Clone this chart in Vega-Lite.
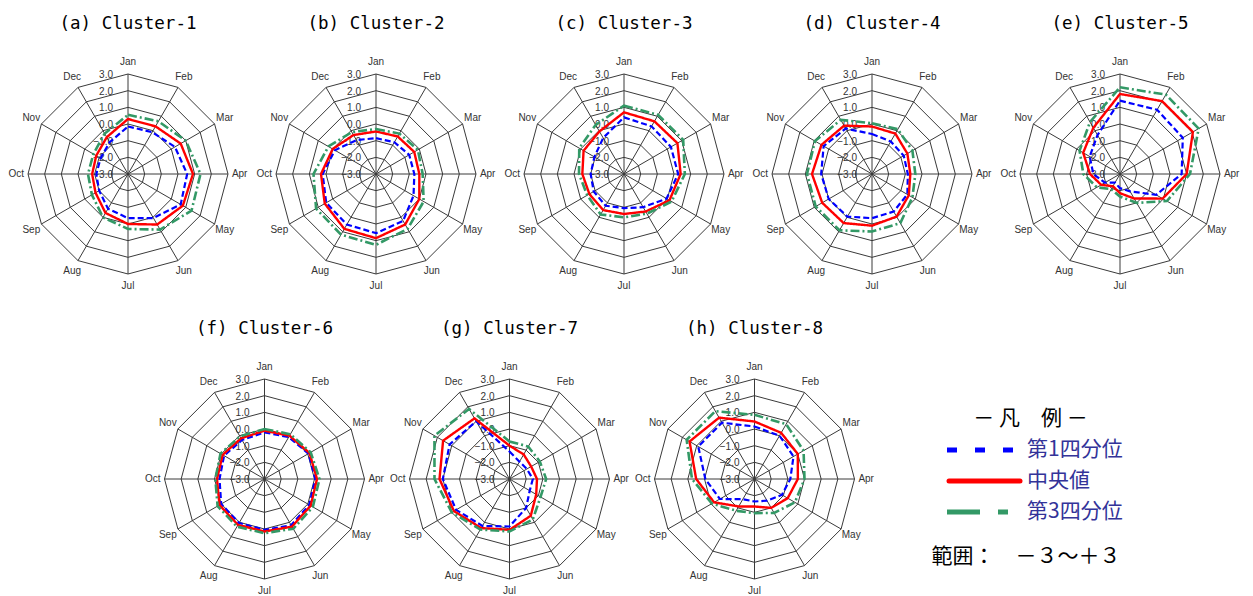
{
"$schema":"https://vega.github.io/schema/vega-lite/v6.json",
"background":"white",
"padding":{"left":4,"top":14,"right":0,"bottom":0},
"config":{"view":{"stroke":null},"header":{"labelFont":"DejaVu Sans Mono","labelFontSize":17.5,"labelColor":"black","labelPadding":17}},
"datasets":{
"months":[
{"i":0,"m":"Jan","lv":[-3,-2,-1,0,1,2,3]},{"i":1,"m":"Feb","lv":[-3,-2,-1,0,1,2,3]},{"i":2,"m":"Mar","lv":[-3,-2,-1,0,1,2,3]},{"i":3,"m":"Apr","lv":[-3,-2,-1,0,1,2,3]},{"i":4,"m":"May","lv":[-3,-2,-1,0,1,2,3]},{"i":5,"m":"Jun","lv":[-3,-2,-1,0,1,2,3]},{"i":6,"m":"Jul","lv":[-3,-2,-1,0,1,2,3]},{"i":7,"m":"Aug","lv":[-3,-2,-1,0,1,2,3]},{"i":8,"m":"Sep","lv":[-3,-2,-1,0,1,2,3]},{"i":9,"m":"Oct","lv":[-3,-2,-1,0,1,2,3]},{"i":10,"m":"Nov","lv":[-3,-2,-1,0,1,2,3]},{"i":11,"m":"Dec","lv":[-3,-2,-1,0,1,2,3]}
],
"series":[
{"c":"(a) Cluster-1","s":"q1","i":0,"v":-0.15},{"c":"(a) Cluster-1","s":"q1","i":1,"v":-0.1},{"c":"(a) Cluster-1","s":"q1","i":2,"v":0.25},{"c":"(a) Cluster-1","s":"q1","i":3,"v":0.55},{"c":"(a) Cluster-1","s":"q1","i":4,"v":0.65},{"c":"(a) Cluster-1","s":"q1","i":5,"v":0.05},{"c":"(a) Cluster-1","s":"q1","i":6,"v":-0.35},{"c":"(a) Cluster-1","s":"q1","i":7,"v":-0.6},{"c":"(a) Cluster-1","s":"q1","i":8,"v":-1.0},{"c":"(a) Cluster-1","s":"q1","i":9,"v":-1.1},{"c":"(a) Cluster-1","s":"q1","i":10,"v":-1.1},{"c":"(a) Cluster-1","s":"q1","i":11,"v":-0.8},
{"c":"(a) Cluster-1","s":"med","i":0,"v":0.3},{"c":"(a) Cluster-1","s":"med","i":1,"v":0.3},{"c":"(a) Cluster-1","s":"med","i":2,"v":0.65},{"c":"(a) Cluster-1","s":"med","i":3,"v":0.9},{"c":"(a) Cluster-1","s":"med","i":4,"v":0.8},{"c":"(a) Cluster-1","s":"med","i":5,"v":0.5},{"c":"(a) Cluster-1","s":"med","i":6,"v":0.0},{"c":"(a) Cluster-1","s":"med","i":7,"v":-0.3},{"c":"(a) Cluster-1","s":"med","i":8,"v":-0.75},{"c":"(a) Cluster-1","s":"med","i":9,"v":-0.85},{"c":"(a) Cluster-1","s":"med","i":10,"v":-0.8},{"c":"(a) Cluster-1","s":"med","i":11,"v":-0.45},
{"c":"(a) Cluster-1","s":"q3","i":0,"v":0.55},{"c":"(a) Cluster-1","s":"q3","i":1,"v":0.65},{"c":"(a) Cluster-1","s":"q3","i":2,"v":1.0},{"c":"(a) Cluster-1","s":"q3","i":3,"v":1.35},{"c":"(a) Cluster-1","s":"q3","i":4,"v":1.4},{"c":"(a) Cluster-1","s":"q3","i":5,"v":0.85},{"c":"(a) Cluster-1","s":"q3","i":6,"v":0.3},{"c":"(a) Cluster-1","s":"q3","i":7,"v":0.0},{"c":"(a) Cluster-1","s":"q3","i":8,"v":-0.5},{"c":"(a) Cluster-1","s":"q3","i":9,"v":-0.6},{"c":"(a) Cluster-1","s":"q3","i":10,"v":-0.6},{"c":"(a) Cluster-1","s":"q3","i":11,"v":-0.2},
{"c":"(b) Cluster-2","s":"q1","i":0,"v":-0.85},{"c":"(b) Cluster-2","s":"q1","i":1,"v":-0.8},{"c":"(b) Cluster-2","s":"q1","i":2,"v":-0.7},{"c":"(b) Cluster-2","s":"q1","i":3,"v":-0.7},{"c":"(b) Cluster-2","s":"q1","i":4,"v":-0.4},{"c":"(b) Cluster-2","s":"q1","i":5,"v":0.25},{"c":"(b) Cluster-2","s":"q1","i":6,"v":0.55},{"c":"(b) Cluster-2","s":"q1","i":7,"v":0.5},{"c":"(b) Cluster-2","s":"q1","i":8,"v":0.45},{"c":"(b) Cluster-2","s":"q1","i":9,"v":0.2},{"c":"(b) Cluster-2","s":"q1","i":10,"v":-0.15},{"c":"(b) Cluster-2","s":"q1","i":11,"v":-0.65},
{"c":"(b) Cluster-2","s":"med","i":0,"v":-0.45},{"c":"(b) Cluster-2","s":"med","i":1,"v":-0.4},{"c":"(b) Cluster-2","s":"med","i":2,"v":-0.35},{"c":"(b) Cluster-2","s":"med","i":3,"v":-0.4},{"c":"(b) Cluster-2","s":"med","i":4,"v":0.0},{"c":"(b) Cluster-2","s":"med","i":5,"v":0.5},{"c":"(b) Cluster-2","s":"med","i":6,"v":0.85},{"c":"(b) Cluster-2","s":"med","i":7,"v":0.8},{"c":"(b) Cluster-2","s":"med","i":8,"v":0.55},{"c":"(b) Cluster-2","s":"med","i":9,"v":0.3},{"c":"(b) Cluster-2","s":"med","i":10,"v":0.0},{"c":"(b) Cluster-2","s":"med","i":11,"v":-0.3},
{"c":"(b) Cluster-2","s":"q3","i":0,"v":-0.3},{"c":"(b) Cluster-2","s":"q3","i":1,"v":-0.2},{"c":"(b) Cluster-2","s":"q3","i":2,"v":-0.1},{"c":"(b) Cluster-2","s":"q3","i":3,"v":-0.2},{"c":"(b) Cluster-2","s":"q3","i":4,"v":0.3},{"c":"(b) Cluster-2","s":"q3","i":5,"v":0.8},{"c":"(b) Cluster-2","s":"q3","i":6,"v":1.25},{"c":"(b) Cluster-2","s":"q3","i":7,"v":1.2},{"c":"(b) Cluster-2","s":"q3","i":8,"v":1.15},{"c":"(b) Cluster-2","s":"q3","i":9,"v":0.75},{"c":"(b) Cluster-2","s":"q3","i":10,"v":0.3},{"c":"(b) Cluster-2","s":"q3","i":11,"v":-0.1},
{"c":"(c) Cluster-3","s":"q1","i":0,"v":0.4},{"c":"(c) Cluster-3","s":"q1","i":1,"v":0.3},{"c":"(c) Cluster-3","s":"q1","i":2,"v":0.25},{"c":"(c) Cluster-3","s":"q1","i":3,"v":0.25},{"c":"(c) Cluster-3","s":"q1","i":4,"v":-0.05},{"c":"(c) Cluster-3","s":"q1","i":5,"v":-0.7},{"c":"(c) Cluster-3","s":"q1","i":6,"v":-0.95},{"c":"(c) Cluster-3","s":"q1","i":7,"v":-0.8},{"c":"(c) Cluster-3","s":"q1","i":8,"v":-0.9},{"c":"(c) Cluster-3","s":"q1","i":9,"v":-1.0},{"c":"(c) Cluster-3","s":"q1","i":10,"v":-0.95},{"c":"(c) Cluster-3","s":"q1","i":11,"v":-0.5},
{"c":"(c) Cluster-3","s":"med","i":0,"v":0.7},{"c":"(c) Cluster-3","s":"med","i":1,"v":0.65},{"c":"(c) Cluster-3","s":"med","i":2,"v":0.7},{"c":"(c) Cluster-3","s":"med","i":3,"v":0.4},{"c":"(c) Cluster-3","s":"med","i":4,"v":0.15},{"c":"(c) Cluster-3","s":"med","i":5,"v":-0.4},{"c":"(c) Cluster-3","s":"med","i":6,"v":-0.6},{"c":"(c) Cluster-3","s":"med","i":7,"v":-0.5},{"c":"(c) Cluster-3","s":"med","i":8,"v":-0.6},{"c":"(c) Cluster-3","s":"med","i":9,"v":-0.5},{"c":"(c) Cluster-3","s":"med","i":10,"v":-0.2},{"c":"(c) Cluster-3","s":"med","i":11,"v":-0.05},
{"c":"(c) Cluster-3","s":"q3","i":0,"v":1.1},{"c":"(c) Cluster-3","s":"q3","i":1,"v":1.1},{"c":"(c) Cluster-3","s":"q3","i":2,"v":1.1},{"c":"(c) Cluster-3","s":"q3","i":3,"v":0.65},{"c":"(c) Cluster-3","s":"q3","i":4,"v":0.3},{"c":"(c) Cluster-3","s":"q3","i":5,"v":-0.25},{"c":"(c) Cluster-3","s":"q3","i":6,"v":-0.4},{"c":"(c) Cluster-3","s":"q3","i":7,"v":-0.2},{"c":"(c) Cluster-3","s":"q3","i":8,"v":-0.45},{"c":"(c) Cluster-3","s":"q3","i":9,"v":-0.3},{"c":"(c) Cluster-3","s":"q3","i":10,"v":0.1},{"c":"(c) Cluster-3","s":"q3","i":11,"v":0.4},
{"c":"(d) Cluster-4","s":"q1","i":0,"v":-0.6},{"c":"(d) Cluster-4","s":"q1","i":1,"v":-0.75},{"c":"(d) Cluster-4","s":"q1","i":2,"v":-0.8},{"c":"(d) Cluster-4","s":"q1","i":3,"v":-0.85},{"c":"(d) Cluster-4","s":"q1","i":4,"v":-0.55},{"c":"(d) Cluster-4","s":"q1","i":5,"v":-0.4},{"c":"(d) Cluster-4","s":"q1","i":6,"v":-0.35},{"c":"(d) Cluster-4","s":"q1","i":7,"v":-0.05},{"c":"(d) Cluster-4","s":"q1","i":8,"v":0.0},{"c":"(d) Cluster-4","s":"q1","i":9,"v":0.05},{"c":"(d) Cluster-4","s":"q1","i":10,"v":0.35},{"c":"(d) Cluster-4","s":"q1","i":11,"v":0.15},
{"c":"(d) Cluster-4","s":"med","i":0,"v":-0.15},{"c":"(d) Cluster-4","s":"med","i":1,"v":-0.2},{"c":"(d) Cluster-4","s":"med","i":2,"v":-0.55},{"c":"(d) Cluster-4","s":"med","i":3,"v":-0.7},{"c":"(d) Cluster-4","s":"med","i":4,"v":-0.45},{"c":"(d) Cluster-4","s":"med","i":5,"v":-0.05},{"c":"(d) Cluster-4","s":"med","i":6,"v":0.1},{"c":"(d) Cluster-4","s":"med","i":7,"v":0.4},{"c":"(d) Cluster-4","s":"med","i":8,"v":0.45},{"c":"(d) Cluster-4","s":"med","i":9,"v":0.6},{"c":"(d) Cluster-4","s":"med","i":10,"v":0.5},{"c":"(d) Cluster-4","s":"med","i":11,"v":0.35},
{"c":"(d) Cluster-4","s":"q3","i":0,"v":0.05},{"c":"(d) Cluster-4","s":"q3","i":1,"v":0.1},{"c":"(d) Cluster-4","s":"q3","i":2,"v":-0.2},{"c":"(d) Cluster-4","s":"q3","i":3,"v":-0.4},{"c":"(d) Cluster-4","s":"q3","i":4,"v":-0.2},{"c":"(d) Cluster-4","s":"q3","i":5,"v":0.4},{"c":"(d) Cluster-4","s":"q3","i":6,"v":0.45},{"c":"(d) Cluster-4","s":"q3","i":7,"v":0.9},{"c":"(d) Cluster-4","s":"q3","i":8,"v":0.9},{"c":"(d) Cluster-4","s":"q3","i":9,"v":0.9},{"c":"(d) Cluster-4","s":"q3","i":10,"v":0.95},{"c":"(d) Cluster-4","s":"q3","i":11,"v":0.75},
{"c":"(e) Cluster-5","s":"q1","i":0,"v":1.4},{"c":"(e) Cluster-5","s":"q1","i":1,"v":1.45},{"c":"(e) Cluster-5","s":"q1","i":2,"v":1.35},{"c":"(e) Cluster-5","s":"q1","i":3,"v":0.7},{"c":"(e) Cluster-5","s":"q1","i":4,"v":-0.5},{"c":"(e) Cluster-5","s":"q1","i":5,"v":-1.8},{"c":"(e) Cluster-5","s":"q1","i":6,"v":-2.15},{"c":"(e) Cluster-5","s":"q1","i":7,"v":-2.4},{"c":"(e) Cluster-5","s":"q1","i":8,"v":-1.95},{"c":"(e) Cluster-5","s":"q1","i":9,"v":-1.4},{"c":"(e) Cluster-5","s":"q1","i":10,"v":-0.9},{"c":"(e) Cluster-5","s":"q1","i":11,"v":-0.3},
{"c":"(e) Cluster-5","s":"med","i":0,"v":1.8},{"c":"(e) Cluster-5","s":"med","i":1,"v":2.05},{"c":"(e) Cluster-5","s":"med","i":2,"v":2.05},{"c":"(e) Cluster-5","s":"med","i":3,"v":1.0},{"c":"(e) Cluster-5","s":"med","i":4,"v":-0.05},{"c":"(e) Cluster-5","s":"med","i":5,"v":-1.3},{"c":"(e) Cluster-5","s":"med","i":6,"v":-1.85},{"c":"(e) Cluster-5","s":"med","i":7,"v":-2.15},{"c":"(e) Cluster-5","s":"med","i":8,"v":-1.7},{"c":"(e) Cluster-5","s":"med","i":9,"v":-1.2},{"c":"(e) Cluster-5","s":"med","i":10,"v":-0.45},{"c":"(e) Cluster-5","s":"med","i":11,"v":0.2},
{"c":"(e) Cluster-5","s":"q3","i":0,"v":2.2},{"c":"(e) Cluster-5","s":"q3","i":1,"v":2.5},{"c":"(e) Cluster-5","s":"q3","i":2,"v":2.45},{"c":"(e) Cluster-5","s":"q3","i":3,"v":1.2},{"c":"(e) Cluster-5","s":"q3","i":4,"v":0.25},{"c":"(e) Cluster-5","s":"q3","i":5,"v":-1.0},{"c":"(e) Cluster-5","s":"q3","i":6,"v":-1.65},{"c":"(e) Cluster-5","s":"q3","i":7,"v":-1.95},{"c":"(e) Cluster-5","s":"q3","i":8,"v":-1.4},{"c":"(e) Cluster-5","s":"q3","i":9,"v":-0.8},{"c":"(e) Cluster-5","s":"q3","i":10,"v":-0.2},{"c":"(e) Cluster-5","s":"q3","i":11,"v":0.6},
{"c":"(f) Cluster-6","s":"q1","i":0,"v":-0.2},{"c":"(f) Cluster-6","s":"q1","i":1,"v":-0.1},{"c":"(f) Cluster-6","s":"q1","i":2,"v":0.05},{"c":"(f) Cluster-6","s":"q1","i":3,"v":0.05},{"c":"(f) Cluster-6","s":"q1","i":4,"v":0.1},{"c":"(f) Cluster-6","s":"q1","i":5,"v":0.2},{"c":"(f) Cluster-6","s":"q1","i":6,"v":0.05},{"c":"(f) Cluster-6","s":"q1","i":7,"v":0.05},{"c":"(f) Cluster-6","s":"q1","i":8,"v":0.0},{"c":"(f) Cluster-6","s":"q1","i":9,"v":-0.3},{"c":"(f) Cluster-6","s":"q1","i":10,"v":-0.2},{"c":"(f) Cluster-6","s":"q1","i":11,"v":-0.3},
{"c":"(f) Cluster-6","s":"med","i":0,"v":-0.1},{"c":"(f) Cluster-6","s":"med","i":1,"v":0.0},{"c":"(f) Cluster-6","s":"med","i":2,"v":0.12},{"c":"(f) Cluster-6","s":"med","i":3,"v":0.15},{"c":"(f) Cluster-6","s":"med","i":4,"v":0.2},{"c":"(f) Cluster-6","s":"med","i":5,"v":0.3},{"c":"(f) Cluster-6","s":"med","i":6,"v":0.15},{"c":"(f) Cluster-6","s":"med","i":7,"v":0.18},{"c":"(f) Cluster-6","s":"med","i":8,"v":0.12},{"c":"(f) Cluster-6","s":"med","i":9,"v":-0.15},{"c":"(f) Cluster-6","s":"med","i":10,"v":-0.1},{"c":"(f) Cluster-6","s":"med","i":11,"v":-0.18},
{"c":"(f) Cluster-6","s":"q3","i":0,"v":0.0},{"c":"(f) Cluster-6","s":"q3","i":1,"v":0.1},{"c":"(f) Cluster-6","s":"q3","i":2,"v":0.2},{"c":"(f) Cluster-6","s":"q3","i":3,"v":0.3},{"c":"(f) Cluster-6","s":"q3","i":4,"v":0.35},{"c":"(f) Cluster-6","s":"q3","i":5,"v":0.45},{"c":"(f) Cluster-6","s":"q3","i":6,"v":0.25},{"c":"(f) Cluster-6","s":"q3","i":7,"v":0.3},{"c":"(f) Cluster-6","s":"q3","i":8,"v":0.25},{"c":"(f) Cluster-6","s":"q3","i":9,"v":-0.05},{"c":"(f) Cluster-6","s":"q3","i":10,"v":0.05},{"c":"(f) Cluster-6","s":"q3","i":11,"v":-0.05},
{"c":"(g) Cluster-7","s":"q1","i":0,"v":-1.35},{"c":"(g) Cluster-7","s":"q1","i":1,"v":-1.8},{"c":"(g) Cluster-7","s":"q1","i":2,"v":-1.8},{"c":"(g) Cluster-7","s":"q1","i":3,"v":-1.6},{"c":"(g) Cluster-7","s":"q1","i":4,"v":-1.6},{"c":"(g) Cluster-7","s":"q1","i":5,"v":-1.0},{"c":"(g) Cluster-7","s":"q1","i":6,"v":-0.15},{"c":"(g) Cluster-7","s":"q1","i":7,"v":0.25},{"c":"(g) Cluster-7","s":"q1","i":8,"v":0.7},{"c":"(g) Cluster-7","s":"q1","i":9,"v":1.0},{"c":"(g) Cluster-7","s":"q1","i":10,"v":1.15},{"c":"(g) Cluster-7","s":"q1","i":11,"v":1.0},
{"c":"(g) Cluster-7","s":"med","i":0,"v":-1.0},{"c":"(g) Cluster-7","s":"med","i":1,"v":-1.3},{"c":"(g) Cluster-7","s":"med","i":2,"v":-1.5},{"c":"(g) Cluster-7","s":"med","i":3,"v":-1.35},{"c":"(g) Cluster-7","s":"med","i":4,"v":-1.15},{"c":"(g) Cluster-7","s":"med","i":5,"v":-0.45},{"c":"(g) Cluster-7","s":"med","i":6,"v":0.05},{"c":"(g) Cluster-7","s":"med","i":7,"v":0.4},{"c":"(g) Cluster-7","s":"med","i":8,"v":0.85},{"c":"(g) Cluster-7","s":"med","i":9,"v":1.2},{"c":"(g) Cluster-7","s":"med","i":10,"v":1.6},{"c":"(g) Cluster-7","s":"med","i":11,"v":1.2},
{"c":"(g) Cluster-7","s":"q3","i":0,"v":-0.75},{"c":"(g) Cluster-7","s":"q3","i":1,"v":-0.75},{"c":"(g) Cluster-7","s":"q3","i":2,"v":-0.9},{"c":"(g) Cluster-7","s":"q3","i":3,"v":-0.8},{"c":"(g) Cluster-7","s":"q3","i":4,"v":-0.85},{"c":"(g) Cluster-7","s":"q3","i":5,"v":-0.2},{"c":"(g) Cluster-7","s":"q3","i":6,"v":0.15},{"c":"(g) Cluster-7","s":"q3","i":7,"v":0.5},{"c":"(g) Cluster-7","s":"q3","i":8,"v":1.0},{"c":"(g) Cluster-7","s":"q3","i":9,"v":1.5},{"c":"(g) Cluster-7","s":"q3","i":10,"v":2.2},{"c":"(g) Cluster-7","s":"q3","i":11,"v":1.85},
{"c":"(h) Cluster-8","s":"q1","i":0,"v":0.15},{"c":"(h) Cluster-8","s":"q1","i":1,"v":0.0},{"c":"(h) Cluster-8","s":"q1","i":2,"v":-0.3},{"c":"(h) Cluster-8","s":"q1","i":3,"v":-0.85},{"c":"(h) Cluster-8","s":"q1","i":4,"v":-1.1},{"c":"(h) Cluster-8","s":"q1","i":5,"v":-1.5},{"c":"(h) Cluster-8","s":"q1","i":6,"v":-1.65},{"c":"(h) Cluster-8","s":"q1","i":7,"v":-1.6},{"c":"(h) Cluster-8","s":"q1","i":8,"v":-0.6},{"c":"(h) Cluster-8","s":"q1","i":9,"v":-0.05},{"c":"(h) Cluster-8","s":"q1","i":10,"v":0.9},{"c":"(h) Cluster-8","s":"q1","i":11,"v":0.9},
{"c":"(h) Cluster-8","s":"med","i":0,"v":0.45},{"c":"(h) Cluster-8","s":"med","i":1,"v":0.2},{"c":"(h) Cluster-8","s":"med","i":2,"v":0.0},{"c":"(h) Cluster-8","s":"med","i":3,"v":-0.4},{"c":"(h) Cluster-8","s":"med","i":4,"v":-0.7},{"c":"(h) Cluster-8","s":"med","i":5,"v":-1.0},{"c":"(h) Cluster-8","s":"med","i":6,"v":-1.35},{"c":"(h) Cluster-8","s":"med","i":7,"v":-1.1},{"c":"(h) Cluster-8","s":"med","i":8,"v":-0.2},{"c":"(h) Cluster-8","s":"med","i":9,"v":0.5},{"c":"(h) Cluster-8","s":"med","i":10,"v":1.5},{"c":"(h) Cluster-8","s":"med","i":11,"v":1.25},
{"c":"(h) Cluster-8","s":"q3","i":0,"v":0.85},{"c":"(h) Cluster-8","s":"q3","i":1,"v":0.8},{"c":"(h) Cluster-8","s":"q3","i":2,"v":0.4},{"c":"(h) Cluster-8","s":"q3","i":3,"v":0.0},{"c":"(h) Cluster-8","s":"q3","i":4,"v":-0.2},{"c":"(h) Cluster-8","s":"q3","i":5,"v":-0.65},{"c":"(h) Cluster-8","s":"q3","i":6,"v":-0.95},{"c":"(h) Cluster-8","s":"q3","i":7,"v":-0.8},{"c":"(h) Cluster-8","s":"q3","i":8,"v":-0.05},{"c":"(h) Cluster-8","s":"q3","i":9,"v":0.75},{"c":"(h) Cluster-8","s":"q3","i":10,"v":1.7},{"c":"(h) Cluster-8","s":"q3","i":11,"v":1.7}
]
},
"spacing":20,
"vconcat":[
{
"data":{"name":"series"},
"transform":[{"filter":{"field":"c","oneOf":["(a) Cluster-1","(b) Cluster-2","(c) Cluster-3","(d) Cluster-4","(e) Cluster-5"]}},{"lookup":"i","from":{"data":{"name":"months"},"key":"i","fields":["m","lv"]}}],
"facet":{"column":{"field":"c","type":"nominal","title":null}},
"spacing":0,
"spec":{
"width":248,"height":250,
"layer":[
{"transform":[{"filter":"datum.s == 'med'"},{"flatten":["lv"]},{"filter":"datum.lv > -3"},{"calculate":"(datum.lv + 3) * sin(datum.i * PI / 6)","as":"gx"},{"calculate":"(datum.lv + 3) * cos(datum.i * PI / 6)","as":"gy"}],
"mark":{"type":"line","interpolate":"linear-closed","color":"#3a3a3a","strokeWidth":1},
"encoding":{"x":{"field":"gx","type":"quantitative","scale":{"domain":[-7.44,7.44],"nice":false,"zero":false},"axis":null},"y":{"field":"gy","type":"quantitative","scale":{"domain":[-7.5,7.5],"nice":false,"zero":false},"axis":null},"detail":{"field":"lv","type":"nominal"},"order":{"field":"i","type":"quantitative"}}},
{"transform":[{"filter":"datum.s == 'med'"},{"calculate":"0","as":"z"},{"calculate":"6 * sin(datum.i * PI / 6)","as":"sx"},{"calculate":"6 * cos(datum.i * PI / 6)","as":"sy"}],
"mark":{"type":"rule","color":"#3a3a3a","strokeWidth":1},
"encoding":{"x":{"field":"z","type":"quantitative"},"y":{"field":"z","type":"quantitative"},"x2":{"field":"sx"},"y2":{"field":"sy"}}},
{"transform":[{"filter":"datum.s == 'med' && datum.i == 0"},{"flatten":["lv"]},{"calculate":"0","as":"z"},{"calculate":"datum.lv + 3","as":"ry"}],
"mark":{"type":"text","font":"Liberation Sans","fontSize":10,"color":"#333333","align":"right","baseline":"middle","dx":-15,"dy":1},
"encoding":{"x":{"field":"z","type":"quantitative"},"y":{"field":"ry","type":"quantitative"},"text":{"field":"lv","type":"quantitative","format":".1f"}}},
{"transform":[{"filter":"datum.s == 'med'"},{"calculate":"6.7 * sin(datum.i * PI / 6)","as":"lx"},{"calculate":"6.7 * cos(datum.i * PI / 6)","as":"ly"}],
"mark":{"type":"text","font":"Liberation Sans","fontSize":10,"color":"#333333","align":"center","baseline":"middle"},
"encoding":{"x":{"field":"lx","type":"quantitative"},"y":{"field":"ly","type":"quantitative"},"text":{"field":"m","type":"nominal"}}},
{"transform":[{"calculate":"(datum.v + 3) * sin(datum.i * PI / 6)","as":"px"},{"calculate":"(datum.v + 3) * cos(datum.i * PI / 6)","as":"py"}],
"mark":{"type":"line","interpolate":"linear-closed"},
"encoding":{"x":{"field":"px","type":"quantitative"},"y":{"field":"py","type":"quantitative"},
"color":{"field":"s","type":"nominal","scale":{"domain":["q1","med","q3"],"range":["#0000ff","#ff0000","#339966"]},"legend":null},
"strokeDash":{"field":"s","type":"nominal","scale":{"domain":["q1","med","q3"],"range":[[6,3],[1,0],[9,3,2,3]]},"legend":null},
"strokeWidth":{"field":"s","type":"ordinal","scale":{"domain":["q1","med","q3"],"range":[2.2,2.6,1.6]},"legend":null},
"order":{"field":"i","type":"quantitative"}}}
]
}
},
{
"spacing":0,
"hconcat":[
{"width":138,"height":10,"data":{"values":[{"t":""}]},"mark":{"type":"text"},"encoding":{"text":{"field":"t","type":"nominal"}}},
{
"data":{"name":"series"},
"transform":[{"filter":{"field":"c","oneOf":["(f) Cluster-6","(g) Cluster-7","(h) Cluster-8"]}},{"lookup":"i","from":{"data":{"name":"months"},"key":"i","fields":["m","lv"]}}],
"facet":{"column":{"field":"c","type":"nominal","title":null}},
"spacing":0,
"spec":{
"width":245,"height":237,
"layer":[
{"transform":[{"filter":"datum.s == 'med'"},{"flatten":["lv"]},{"filter":"datum.lv > -3"},{"calculate":"(datum.lv + 3) * sin(datum.i * PI / 6)","as":"gx"},{"calculate":"(datum.lv + 3) * cos(datum.i * PI / 6)","as":"gy"}],
"mark":{"type":"line","interpolate":"linear-closed","color":"#3a3a3a","strokeWidth":1},
"encoding":{"x":{"field":"gx","type":"quantitative","scale":{"domain":[-7.35,7.35],"nice":false,"zero":false},"axis":null},"y":{"field":"gy","type":"quantitative","scale":{"domain":[-6.72,7.5],"nice":false,"zero":false},"axis":null},"detail":{"field":"lv","type":"nominal"},"order":{"field":"i","type":"quantitative"}}},
{"transform":[{"filter":"datum.s == 'med'"},{"calculate":"0","as":"z"},{"calculate":"6 * sin(datum.i * PI / 6)","as":"sx"},{"calculate":"6 * cos(datum.i * PI / 6)","as":"sy"}],
"mark":{"type":"rule","color":"#3a3a3a","strokeWidth":1},
"encoding":{"x":{"field":"z","type":"quantitative"},"y":{"field":"z","type":"quantitative"},"x2":{"field":"sx"},"y2":{"field":"sy"}}},
{"transform":[{"filter":"datum.s == 'med' && datum.i == 0"},{"flatten":["lv"]},{"calculate":"0","as":"z"},{"calculate":"datum.lv + 3","as":"ry"}],
"mark":{"type":"text","font":"Liberation Sans","fontSize":10,"color":"#333333","align":"right","baseline":"middle","dx":-15,"dy":1},
"encoding":{"x":{"field":"z","type":"quantitative"},"y":{"field":"ry","type":"quantitative"},"text":{"field":"lv","type":"quantitative","format":".1f"}}},
{"transform":[{"filter":"datum.s == 'med'"},{"calculate":"6.7 * sin(datum.i * PI / 6)","as":"lx"},{"calculate":"6.7 * cos(datum.i * PI / 6)","as":"ly"}],
"mark":{"type":"text","font":"Liberation Sans","fontSize":10,"color":"#333333","align":"center","baseline":"middle"},
"encoding":{"x":{"field":"lx","type":"quantitative"},"y":{"field":"ly","type":"quantitative"},"text":{"field":"m","type":"nominal"}}},
{"transform":[{"calculate":"(datum.v + 3) * sin(datum.i * PI / 6)","as":"px"},{"calculate":"(datum.v + 3) * cos(datum.i * PI / 6)","as":"py"}],
"mark":{"type":"line","interpolate":"linear-closed"},
"encoding":{"x":{"field":"px","type":"quantitative"},"y":{"field":"py","type":"quantitative"},
"color":{"field":"s","type":"nominal","scale":{"domain":["q1","med","q3"],"range":["#0000ff","#ff0000","#339966"]},"legend":null},
"strokeDash":{"field":"s","type":"nominal","scale":{"domain":["q1","med","q3"],"range":[[6,3],[1,0],[9,3,2,3]]},"legend":null},
"strokeWidth":{"field":"s","type":"ordinal","scale":{"domain":["q1","med","q3"],"range":[2.2,2.6,1.6]},"legend":null},
"order":{"field":"i","type":"quantitative"}}}
]
}
},
{
"width":370,"height":237,
"data":{"values":[{"s":"q1","t":"第1四分位"},{"s":"med","t":"中央値"},{"s":"q3","t":"第3四分位"}]},
"encoding":{"y":{"field":"s","type":"nominal","scale":{"type":"point","domain":["q1","med","q3"],"range":[96,158],"padding":0},
"axis":{"orient":"left","title":"－ 凡　例 －","titleAngle":0,"titleX":153,"titleY":64,"titleAlign":"center","titleBaseline":"middle","titleFont":"Noto Sans CJK JP","titleFontSize":21,"titleFontWeight":"normal","titleColor":"black","domain":false,"ticks":false,"labels":false,"grid":false}}},
"layer":[
{"transform":[{"filter":"datum.s == 'q1'"}],"mark":{"type":"rule","color":"#0000ff","strokeWidth":5,"strokeDash":[10,18]},
"encoding":{"x":{"datum":70,"type":"quantitative","scale":{"domain":[0,370],"nice":false,"zero":false},
"axis":{"orient":"bottom","title":"範囲：　－３～＋３","titleX":54,"titleY":-35,"titleAlign":"left","titleAnchor":"start","titleBaseline":"middle","titleFont":"Noto Sans CJK JP","titleFontSize":21,"titleFontWeight":"normal","titleColor":"black","domain":false,"ticks":false,"labels":false,"grid":false}},"x2":{"datum":145}}},
{"transform":[{"filter":"datum.s == 'med'"}],"mark":{"type":"rule","color":"#ff0000","strokeWidth":5,"strokeCap":"round"},
"encoding":{"x":{"datum":72,"type":"quantitative"},"x2":{"datum":143}}},
{"transform":[{"filter":"datum.s == 'q3'"}],"mark":{"type":"rule","color":"#339966","strokeWidth":5,"strokeDash":[33,18,10,18]},
"encoding":{"x":{"datum":70,"type":"quantitative"},"x2":{"datum":145}}},
{"mark":{"type":"text","align":"left","baseline":"middle","font":"Noto Sans CJK JP","fontSize":21,"color":"#333399"},
"encoding":{"x":{"datum":150,"type":"quantitative"},"text":{"field":"t","type":"nominal"}}}
]
}
]
}
]
}
